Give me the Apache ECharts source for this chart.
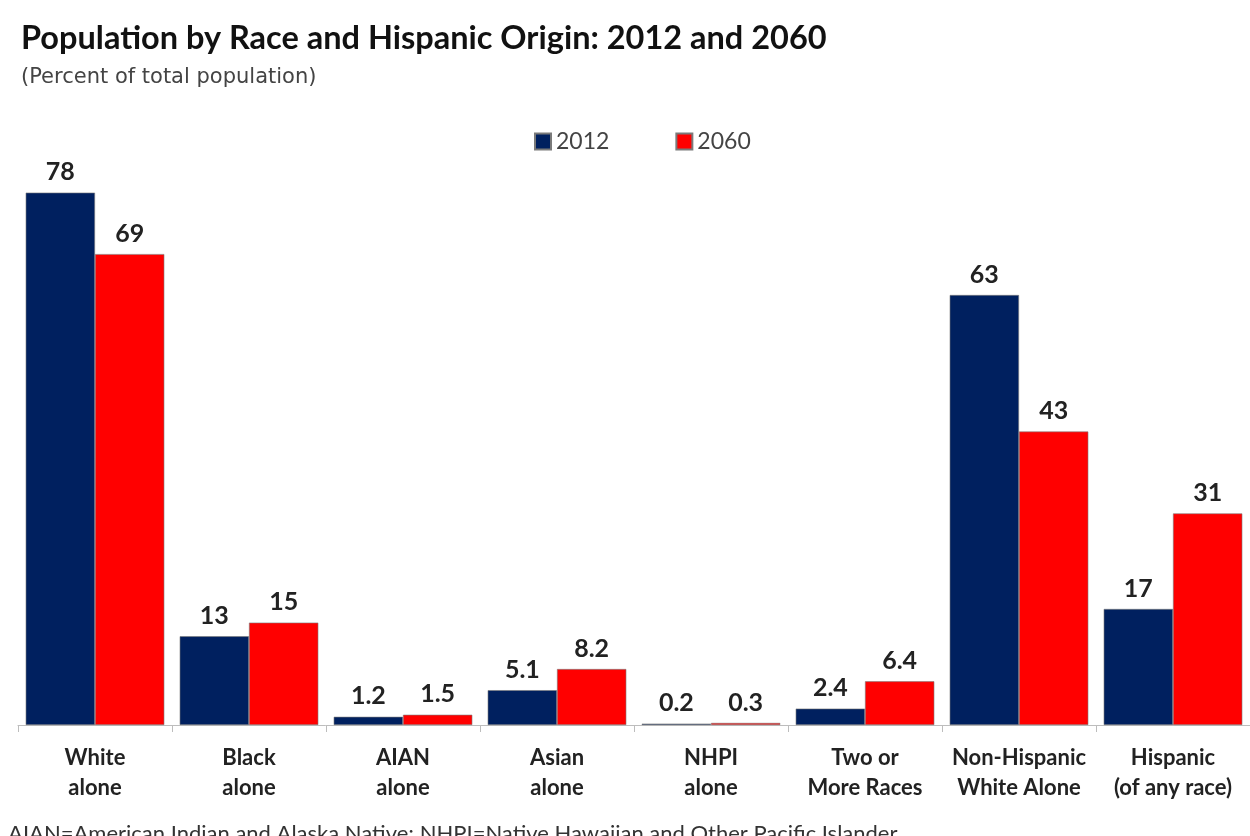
<!DOCTYPE html>
<html>
<head>
    <meta charset="utf-8" />
    <title>Population by Race and Hispanic Origin</title>
    <style>
        html, body { margin: 0; padding: 0; background: #fff; }
        #main { width: 1250px; height: 836px; }
    </style>
    <script src="https://cdn.jsdelivr.net/npm/echarts@6/dist/echarts.min.js"></script>
</head>
<body>
    <div id="main"></div>
    <script type="text/javascript">
        // categories and values
        var categories = ['White\nalone', 'Black\nalone', 'AIAN\nalone', 'Asian\nalone',
            'NHPI\nalone', 'Two or\nMore Races', 'Non-Hispanic\nWhite Alone', 'Hispanic\n(of any race)'];
        var values2012 = [78, 13, 1.2, 5.1, 0.2, 2.4, 63, 17];
        var values2060 = [69, 15, 1.5, 8.2, 0.3, 6.4, 43, 31];
        var seriesNames = ['2012', '2060'];

        var font = 'Lato, "Open Sans", sans-serif';

        var myChart = echarts.init(document.getElementById('main'));

        function barSeries(name, data, color) {
            return {
                name: name,
                type: 'bar',
                data: data,
                barGap: '0%',
                barCategoryGap: '10%',
                itemStyle: { color: color, borderColor: '#7a7a7a', borderWidth: 0.6 },
                label: {
                    show: true,
                    position: 'top',
                    distance: 8,
                    fontFamily: font,
                    fontWeight: 'bold',
                    fontSize: 25,
                    color: '#222'
                }
            };
        }

        var option = {
            animation: false,
            title: {
                text: 'Population by Race and Hispanic Origin: 2012 and 2060',
                subtext: '(Percent of total population)',
                left: 16,
                top: 17,
                itemGap: 12,
                textStyle: { fontFamily: font, fontWeight: 'bold', fontSize: 32.5, color: '#111' },
                subtextStyle: { fontFamily: '"DejaVu Sans", sans-serif', fontSize: 21, color: '#444' }
            },
            legend: {
                data: seriesNames,
                top: 125,
                left: 529,
                itemWidth: 16,
                itemHeight: 16,
                itemGap: 66,
                icon: 'rect',
                textStyle: { fontFamily: font, fontSize: 23, color: '#444' }
            },
            grid: { left: 18, right: -3, top: 179, bottom: 111, containLabel: false },
            xAxis: {
                type: 'category',
                data: categories,
                axisLine: { lineStyle: { color: '#bdbdbd', width: 1 } },
                axisTick: { show: true, length: 7, lineStyle: { color: '#bdbdbd' } },
                axisLabel: {
                    interval: 0,
                    margin: 18,
                    lineHeight: 30,
                    fontFamily: font,
                    fontWeight: 'bold',
                    fontSize: 22,
                    color: '#222'
                }
            },
            yAxis: {
                type: 'value',
                min: 0,
                max: 80,
                show: false,
                splitLine: { show: false }
            },
            series: [
                barSeries(seriesNames[0], values2012, '#00205f'),
                barSeries(seriesNames[1], values2060, '#ff0000')
            ],
            graphic: [{
                type: 'text',
                left: 8,
                top: 823,
                style: {
                    text: 'AIAN=American Indian and Alaska Native; NHPI=Native Hawaiian and Other Pacific Islander',
                    font: '22px ' + font,
                    fill: '#333'
                }
            }]
        };
        myChart.setOption(option);
    </script>
</body>
</html>
